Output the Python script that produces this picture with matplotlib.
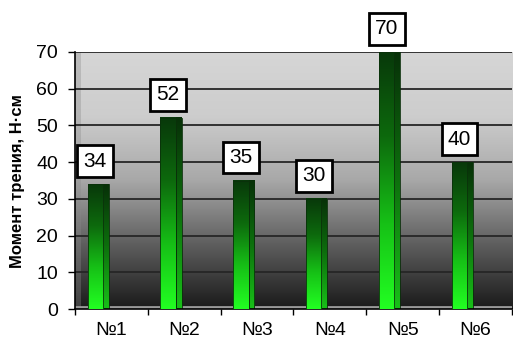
import numpy as np
import matplotlib.pyplot as plt
from matplotlib.colors import LinearSegmentedColormap
from matplotlib.patches import Rectangle

plt.rcParams['font.family'] = ['Liberation Sans', 'DejaVu Sans']

categories = ['№1', '№2', '№3', '№4', '№5', '№6']
values = [34, 52, 35, 30, 70, 40]
y_ticks = [0, 10, 20, 30, 40, 50, 60, 70]

fig = plt.figure(figsize=(5.13, 3.42), dpi=100)
ax = fig.add_axes([0.146, 0.096, 0.852, 0.752])

x = np.arange(1, len(values) + 1)
n = len(values)

# background wall gradient (light top, dark bottom)
wall = LinearSegmentedColormap.from_list('wall', ['#1a1a1a', '#5e5e5e', '#a8a8a8', '#cdcdcd', '#d6d6d6'])
grad = np.linspace(0, 1, 256).reshape(-1, 1)
ax.imshow(grad, extent=(0.5, n + 0.5, 0, 70), origin='lower', cmap=wall,
          aspect='auto', zorder=0)
# left wall strip
ax.add_patch(Rectangle((0.5, 0), 0.09, 70, facecolor='#8a8a8a', alpha=0.35, lw=0, zorder=0.5))

for t in y_ticks[1:]:
    ax.axhline(t, color='#262626', lw=1.3, zorder=1)
# floor edge
ax.axhline(0.6, color='#9a9a9a', lw=2.0, zorder=1)

green = LinearSegmentedColormap.from_list('green', ['#22ff22', '#16c016', '#0d6a0d', '#08380a'])
side_cm = LinearSegmentedColormap.from_list('side', ['#18c018', '#0d700d', '#073008'])
off = -0.22
w = 0.21
side = 0.08
for xi, v in zip(x, values):
    c = xi + off
    ax.imshow(grad, extent=(c + w / 2, c + w / 2 + side, 0, v), origin='lower', cmap=side_cm,
              aspect='auto', zorder=2)
    ax.add_patch(Rectangle((c + w / 2, 0), side, v, facecolor='none',
                           edgecolor='#0a300a', lw=0.6, zorder=2.5))
    ax.imshow(grad, extent=(c - w / 2, c + w / 2, 0, v), origin='lower', cmap=green,
              aspect='auto', zorder=3)
    ax.add_patch(Rectangle((c - w / 2, 0), w, v, facecolor='none',
                           edgecolor='#0a300a', lw=0.6, zorder=4))
    ax.text(c, v + 6.3, str(v), ha='center', va='center', fontsize=15, zorder=6,
            clip_on=False,
            bbox=dict(boxstyle='square,pad=0.3', facecolor='white', edgecolor='black', lw=2))

ax.set_xlim(0.5, n + 0.5)
ax.set_ylim(0, 70)

ax.set_yticks(y_ticks)
ax.tick_params(axis='y', labelsize=14, length=5, width=1, direction='out', pad=7)
ax.set_xticks(np.arange(0.5, n + 1, 1))
ax.set_xticklabels([])
ax.set_xticks(x, minor=True)
ax.set_xticklabels(categories, minor=True, fontsize=14)
ax.tick_params(axis='x', which='major', length=4.5, width=1, direction='out')
ax.tick_params(axis='x', which='minor', length=0, pad=9)

for s in ['top', 'right']:
    ax.spines[s].set_visible(False)
ax.spines['left'].set_linewidth(1.2)
ax.spines['bottom'].set_linewidth(1.2)

ax.set_ylabel('Момент трения, Н·см', fontsize=12, fontweight='bold', labelpad=8)

fig.savefig('out.png', dpi=100)
